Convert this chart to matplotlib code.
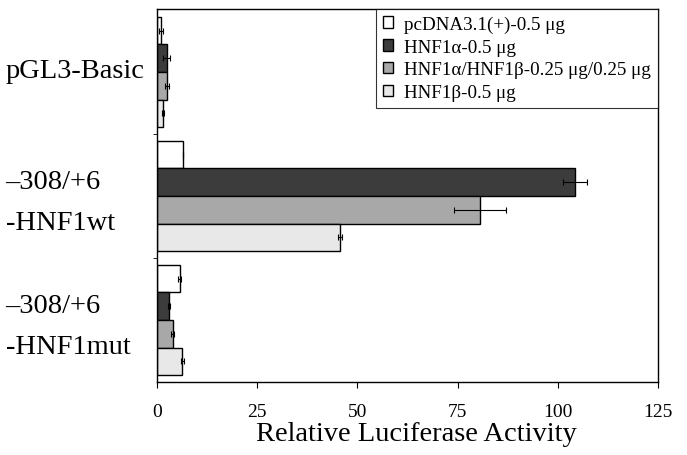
import matplotlib
matplotlib.use("Agg")
import matplotlib.pyplot as plt
import numpy as np

plt.rcParams["font.family"] = ["Liberation Serif", "DejaVu Serif"]

# data
constructs = ["pGL3-Basic", "\u2013308/+6\n-HNF1wt", "\u2013308/+6\n-HNF1mut"]
series = ["pcDNA3.1(+)-0.5 \u03bcg", "HNF1\u03b1-0.5 \u03bcg",
          "HNF1\u03b1/HNF1\u03b2-0.25 \u03bcg/0.25 \u03bcg", "HNF1\u03b2-0.5 \u03bcg"]
pcdna = [1.0, 6.4, 5.7]
hnf1a = [2.4, 104.2, 3.0]
hnf1ab = [2.4, 80.5, 3.9]
hnf1b = [1.5, 45.6, 6.3]
pcdna_err = [0.4, 0.0, 0.4]
hnf1a_err = [0.8, 3.0, 0.3]
hnf1ab_err = [0.5, 6.5, 0.3]
hnf1b_err = [0.3, 0.5, 0.4]

values = [pcdna, hnf1a, hnf1ab, hnf1b]
errors = [pcdna_err, hnf1a_err, hnf1ab_err, hnf1b_err]
colors = ["white", "#3c3c3c", "#a8a8a8", "#e8e8e8"]

fig = plt.figure(figsize=(6.87, 4.56), dpi=100)
ax = fig.add_axes([157 / 687, 1 - 383 / 456, 501 / 687, 373 / 456])

h = 0.222
ypos = np.arange(len(constructs))
for i, (vals, errs, c, lab) in enumerate(zip(values, errors, colors, series)):
    y = ypos + (i - 1.5) * h
    ax.barh(y, vals, height=h, color=c, edgecolor="black", linewidth=1.0, label=lab)
    ax.errorbar(vals, y, xerr=errs, fmt="none", ecolor="black", elinewidth=0.8,
                capsize=2.5, capthick=0.8)

ax.set_xlim(0, 125)
ax.set_ylim(2.5, -0.508)
ax.set_xticks([0, 25, 50, 75, 100, 125])
ax.tick_params(axis="x", direction="out", length=4, labelsize=14, pad=11)
ax.set_xlabel("Relative Luciferase Activity", fontsize=20.5)
ax.xaxis.set_label_coords(0.518, -0.105)

# group labels sit a little above the group centres
ax.set_yticks(ypos - 0.04)
ax.set_yticklabels(constructs, fontsize=20.5)
ax.tick_params(axis="y", length=0, pad=109)
for lbl in ax.get_yticklabels():
    lbl.set_ha("left")
    lbl.set_linespacing(1.85)
ax.set_yticks([0.5, 1.5], minor=True)
ax.tick_params(axis="y", which="minor", direction="out", length=3)

for sp in ax.spines.values():
    sp.set_linewidth(1.0)

leg = ax.legend(loc="upper right", fontsize=13.7, frameon=True, fancybox=False,
                borderaxespad=0, handlelength=0.55, handleheight=0.55,
                handletextpad=0.6, labelspacing=0.3, borderpad=0.35)
leg.get_frame().set_edgecolor("black")
leg.get_frame().set_linewidth(0.8)

fig.savefig("out.png", dpi=100)
